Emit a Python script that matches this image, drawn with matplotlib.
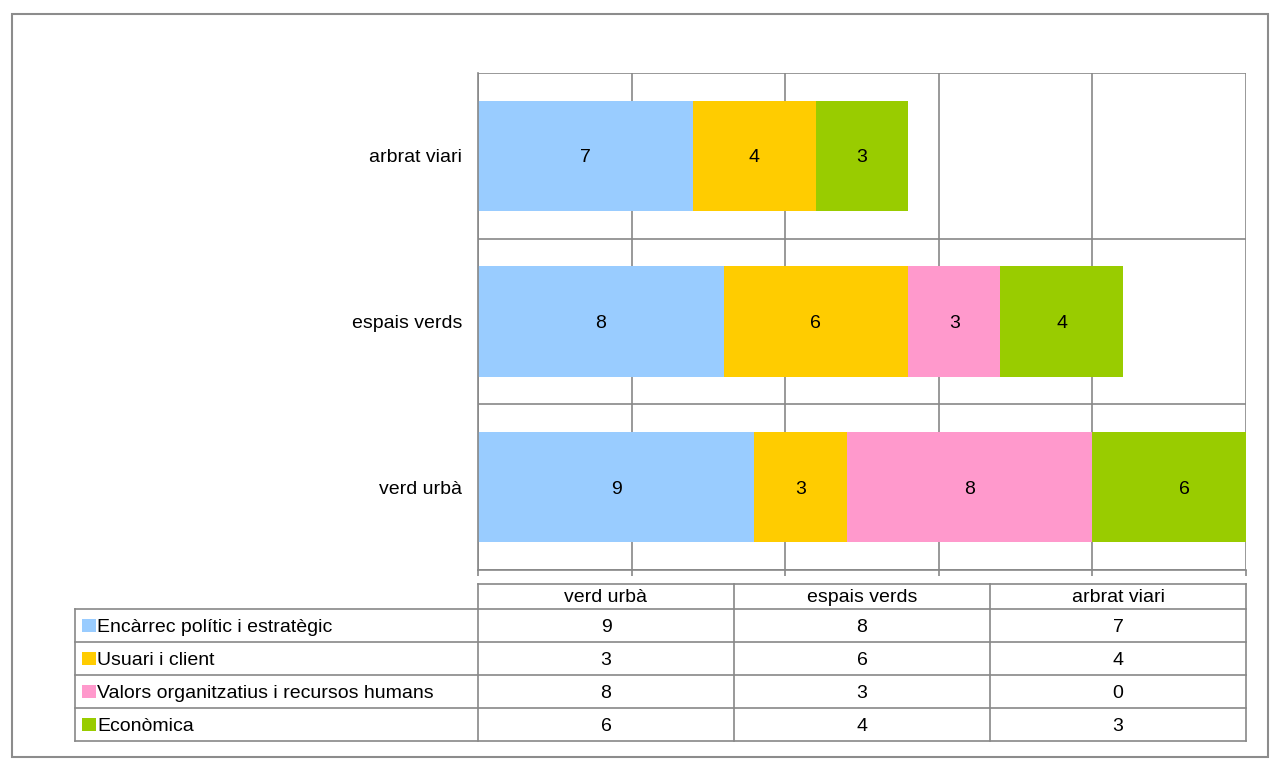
import matplotlib
matplotlib.use("Agg")
import matplotlib.pyplot as plt
from matplotlib.patches import Rectangle

plt.rcParams['font.family'] = ['Liberation Sans', 'DejaVu Sans']

categories = ['verd urbà', 'espais verds', 'arbrat viari']
series_names = ['Encàrrec polític i estratègic', 'Usuari i client',
                'Valors organitzatius i recursos humans', 'Econòmica']
encarrec = [9, 8, 7]
usuari = [3, 6, 4]
valors = [8, 3, 0]
economica = [6, 4, 3]
series_values = [encarrec, usuari, valors, economica]
colors = ['#99CCFF', '#FFCC00', '#FF99CC', '#99CC00']

W, H = 1282, 776
FS = 14
grid_c = '#888888'
fig = plt.figure(figsize=(W / 100, H / 100), dpi=100)

# overlay axes in pixel coordinates for frame and table
ov = fig.add_axes([0, 0, 1, 1])
ov.set_xlim(0, W)
ov.set_ylim(H, 0)
ov.axis('off')
ov.add_patch(Rectangle((12, 14), 1268 - 12, 757 - 14, fill=False,
                       edgecolor='#8c8c8c', linewidth=1.5))

x0, x1, y0, y1 = 478, 1246, 73, 570
ax = fig.add_axes([x0 / W, 1 - y1 / H, (x1 - x0) / W, (y1 - y0) / H])
ys = list(range(len(categories)))
left = [0] * len(categories)
for vals, col in zip(series_values, colors):
    ax.barh(ys, vals, left=left, height=0.667, color=col, edgecolor='none', zorder=2)
    for y, v, l in zip(ys, vals, left):
        if v > 0:
            ax.text(l + v / 2, y, str(v), ha='center', va='center_baseline', fontsize=FS,
                    color='black', zorder=3)
    left = [a + b for a, b in zip(left, vals)]

ax.set_xlim(0, 25)
ax.set_ylim(-0.5, len(categories) - 0.5)
ax.set_xticks(range(0, 26, 5))
ax.set_xticklabels([])
ax.tick_params(axis='x', length=4, color=grid_c, width=1.2, direction='out')
ax.set_yticks(ys)
ax.set_yticklabels(categories, fontsize=FS)
ax.tick_params(axis='y', length=0, pad=11.5)
ax.set_yticks([y - 0.5 for y in ys] + [len(categories) - 0.5], minor=True)
ax.tick_params(axis='y', which='minor', length=0)
ax.grid(True, axis='x', color=grid_c, linewidth=1.2, zorder=1)
ax.grid(True, axis='y', which='minor', color=grid_c, linewidth=1.2, zorder=1)
ax.grid(False, axis='y', which='major')
ax.set_axisbelow(True)
for s in ['top', 'right']:
    ax.spines[s].set_visible(False)
for s in ['left', 'bottom']:
    ax.spines[s].set_color(grid_c)
    ax.spines[s].set_linewidth(1.2)

# data table (pixel layout)
tab_left = 75
col_edges = [x0, 734, 990, x1]
head_top, head_bot = 584, 609
row_h = 33
n_rows = len(series_names)
tab_bot = head_bot + row_h * n_rows
lw = 1.2
ov.plot([x0, x1], [head_top, head_top], color=grid_c, lw=lw)
for xe in col_edges:
    ov.plot([xe, xe], [head_top, tab_bot], color=grid_c, lw=lw)
ov.plot([tab_left, tab_left], [head_bot, tab_bot], color=grid_c, lw=lw)
for i in range(n_rows + 1):
    yy = head_bot + i * row_h
    ov.plot([tab_left, x1], [yy, yy], color=grid_c, lw=lw)
for j, cat in enumerate(categories):
    xc = (col_edges[j] + col_edges[j + 1]) / 2
    ov.text(xc, (head_top + head_bot) / 2 - 1.5, cat, ha='center', va='center_baseline',
            fontsize=FS)
for i, (name, vals, col) in enumerate(zip(series_names, series_values, colors)):
    yc = head_bot + i * row_h + row_h / 2
    ov.add_patch(Rectangle((82, yc - 6.5), 14, 13, facecolor=col, edgecolor='none'))
    ov.text(97, yc, name, ha='left', va='center_baseline', fontsize=FS)
    for j, v in enumerate(vals):
        xc = (col_edges[j] + col_edges[j + 1]) / 2
        ov.text(xc, yc, str(v), ha='center', va='center_baseline', fontsize=FS)

fig.savefig('out.png', dpi=100, facecolor='white')
